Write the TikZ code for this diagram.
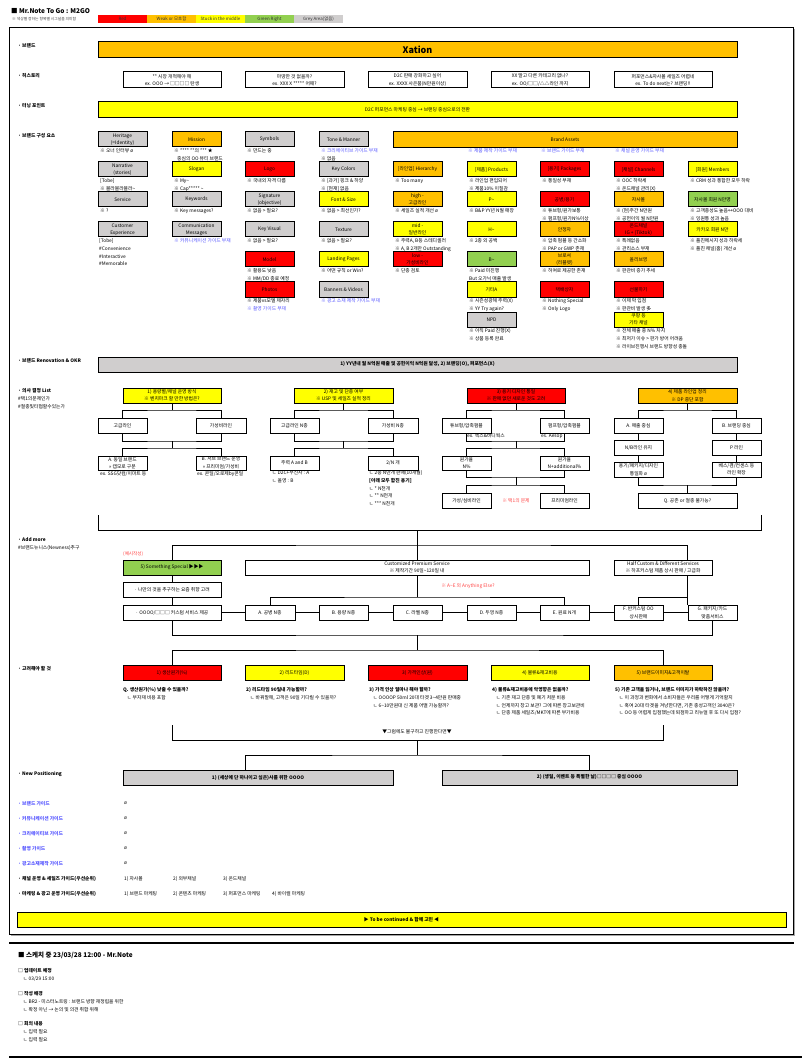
\documentclass[tikz,border=0pt]{standalone}
\usepackage{fontspec}
\setmainfont{Noto Sans CJK KR}
\usetikzlibrary{calc}
\definecolor{cred}{RGB}{255,0,0}
\definecolor{corange}{RGB}{255,192,0}
\definecolor{cyellow}{RGB}{255,255,0}
\definecolor{cgreen}{RGB}{146,208,80}
\definecolor{cgrey}{RGB}{208,206,206}
\definecolor{bluetxt}{RGB}{85,85,255}
\definecolor{redtxt}{RGB}{255,70,70}
\newcommand\myfbx{\fontsize{4.8}{7.4}\selectfont}
\newcommand\myfnt{\fontsize{4.8}{7.7}\selectfont}
\newcommand\mytld{\textasciitilde}
\newcounter{tn}
\newcommand\myBx[7]{\node[bx,fill=#6,minimum width={(#4-#2)*1pt},minimum height={(#5-#3)*1pt}] (#1) at ({(#2+#4)/2},{(#3+#5)/2}) {#7};}
\newcommand\myCb[5]{\myBx{#1}{#2}{#3}{#2+49}{#3+15}{#4}{#5}}
\newcommand\myNt[4][black]{\stepcounter{tn}\node[tx,text=#1] (n\arabic{tn}) at (#2,{#3-2.4}) {#4};}
\newcommand\myLg[6]{\node[lg,fill=#5,minimum width={(#3-#2)*1pt},minimum height=8pt] (#1) at ({(#2+#3)/2},#4) {#6};}
\begin{document}
\begin{tikzpicture}[x=1pt,y=-1pt,
  bx/.style={draw=black,line width=1pt,inner sep=0pt,align=center,font=\myfbx},
  lg/.style={inner sep=0pt,align=center,font=\fontsize{4.4}{5}\selectfont,text=black!80},
  ln/.style={line width=1pt},
  tx/.style={inner sep=0pt,anchor=north west,align=left,font=\myfnt}]
\useasboundingbox (0,0) rectangle (802,1064);
\fill[white] (0,0) rectangle (802,1064);

% title and legend
\node[anchor=west,inner sep=0pt,font=\fontsize{6.5}{7}\selectfont\bfseries] (title) at (11,11) {■ Mr.Note To Go : M2GO};
\node[anchor=west,inner sep=0pt,font=\fontsize{3.8}{4.5}\selectfont,text=black!75] (subt) at (12,19) {※ 색상별 정하는 항목별 시그널을 의미함};
\myLg{lg1}{98}{147}{19}{cred}{Red}
\myLg{lg2}{147}{196}{19}{corange}{Weak or 모호함}
\myLg{lg3}{196}{245}{19}{cyellow}{Stuck in the middle}
\myLg{lg4}{245}{294}{19}{cgreen}{Green Right}
\myLg{lg5}{294}{343}{19}{cgrey}{Grey Area(없음)}

% frame
\draw[line width=1pt] (9,28) rectangle (793,934);
\draw[line width=0.6pt,black!35] (10.5,935.5) -- (794.5,935.5) -- (794.5,29.5);
\draw[line width=2pt] (9,943) -- (794,943);
\draw[line width=2pt] (9,1057) -- (802,1057);

% section labels
\myNt{18}{46}{\textbf{· 브랜드}}
\myNt{18}{76}{\textbf{· 히스토리}}
\myNt{18}{106}{\textbf{· 터닝 포인트}}
\myNt{18}{136}{\textbf{· 브랜드 구성 요소}}
\myNt{18}{361}{\textbf{· 브랜드 Renovation \& OKR}}
\myNt{18}{391}{\textbf{· 의사 결정 List}\\\#택1의문제인가\\\#절충및타협할수있는가}
\myNt{18}{540}{\textbf{· Add more}\\\#브랜드뉴니스(Newness)추구}
\myNt{18}{669}{\textbf{· 고려해야 할 것}}
\myNt{18}{774}{\textbf{· New Positioning}}

% brand / history / turning point
\myBx{brand}{98}{42}{737}{58}{corange}{\fontsize{9}{10}\selectfont\bfseries Xation}
\myBx{h1}{123}{72}{221}{88}{white}{** 시장 개척해야 해\\ex. OOO → □□□□ 탄생}
\myBx{h2}{245}{72}{344}{88}{white}{마땅한 것 없을까?\\ex. XXX X ***** 어때?}
\myBx{h3}{368}{72}{467}{88}{white}{D2C 판매 강화하고 싶어\\ex. XXXX 사은품(N만원이상)}
\myBx{h4}{491}{72}{589}{88}{white}{XX 말고 다른 카테고리 없나?\\ex. OO/□□/△△라인 까지}
\myBx{h5}{614}{72}{712}{88}{white}{퍼포먼스\&자사몰 세일즈 어렵네\\ex. To do next는? 브랜딩!!}
\myBx{turn}{98}{102}{737}{118}{cyellow}{D2C 퍼포먼스 마케팅 중심 → 브랜딩 중심으로의 전환}

% brand components row 1
\myCb{k11}{98}{132}{cgrey}{Heritage\\(=Identity)}
\myCb{k12}{172}{132}{corange}{Mission}
\myCb{k13}{245}{132}{cgrey}{Symbols}
\myCb{k14}{319}{132}{cgrey}{Tone \& Manner}
\myBx{ba}{393}{132}{737}{148}{corange}{Brand Assets}
\myNt{100}{151}{※ 오너 인터뷰 ø}
\myNt{174}{151}{※ **** **의 *** ★\\\hspace*{3pt}중심의 OO 뷰티 브랜드}
\myNt{247}{151}{※ 만드는 중}
\myNt[bluetxt]{321}{151}{※ 크리에이티브 가이드 부재}
\myNt{321}{159}{※ 없음}
\myNt[bluetxt]{468}{151}{※ 제품 제작 가이드 부재}
\myNt[bluetxt]{541}{151}{※ 브랜드 가이드 부재}
\myNt[bluetxt]{615}{151}{※ 채널 운영 가이드 부재}

% row 2
\myCb{k21}{98}{162}{cgrey}{Narrative\\(stories)}
\myCb{k22}{172}{162}{cyellow}{Slogan}
\myCb{k23}{245}{162}{cred}{Logo}
\myCb{k24}{319}{162}{cgrey}{Key Colors}
\myCb{k25}{393}{162}{corange}{[라인업] Hierarchy}
\myCb{k26}{467}{162}{cyellow}{[제품] Products}
\myCb{k27}{540}{162}{cred}{[용기] Packages}
\myCb{k28}{614}{162}{cred}{[채널] Channels}
\myCb{k29}{688}{162}{cyellow}{[회원] Members}
\myNt{100}{181}{[Tobe]\\※ 블라블라블라\mytld}
\myNt{174}{181}{※ My\mytld\\※ Cap***** \mytld}
\myNt{247}{181}{※ 국내외 자격 다름}
\myNt{321}{181}{※ [과거] 핑크 \& 하양\\※ [현재] 없음}
\myNt{395}{181}{※ Too many}
\myNt{469}{181}{※ 라인업 편입되어\\※ 제품10\% 이질감}
\myNt{542}{181}{※ 통일성 부재}
\myNt{616}{181}{※ OOC 하락세\\※ 온드채널 관리(X)}
\myNt{690}{181}{※ CRM 성과 통합한 모두 하락}

% row 3
\myCb{k31}{98}{192}{cgrey}{Service}
\myCb{k32}{172}{192}{cgrey}{Keywords}
\myCb{k33}{245}{192}{cgrey}{Signature\\(objective)}
\myCb{k34}{319}{192}{cyellow}{Font \& Size}
\myCb{k35}{393}{192}{corange}{high -\\고급라인}
\myCb{k36}{467}{192}{cyellow}{P\mytld}
\myCb{k37}{540}{192}{cred}{공병/용기}
\myCb{k38}{614}{192}{corange}{자사몰}
\myCb{k39}{688}{192}{cgreen}{자사몰 회원 N만명}
\myNt{100}{211}{※ ?}
\myNt{174}{211}{※ Key messages?}
\myNt{247}{211}{※ 없음 > 필요?}
\myNt{321}{211}{※ 없음 > 최선인가?}
\myNt{395}{211}{※ 세일즈 실적 개선 ø}
\myNt{469}{211}{※ B\&P YY년 N월 매장}
\myNt{542}{211}{※ 튜브형/원가보통\\※ 펌프형/원가N\%이상}
\myNt{616}{211}{※ (현)주간 N만원\\※ 공헌이익 월 N만원}
\myNt{690}{211}{※ 고객충성도 높음↔OOO 대비\\※ 잉원통 성과 높음}

% row 4
\myCb{k41}{98}{222}{cgrey}{Customer\\Experience}
\myCb{k42}{172}{222}{cgrey}{Communication\\Messages}
\myCb{k43}{245}{222}{cgrey}{Key Visual}
\myCb{k44}{319}{222}{cgrey}{Texture}
\myCb{k45}{393}{222}{cyellow}{mid -\\일반라인}
\myCb{k46}{467}{222}{cyellow}{H\mytld}
\myCb{k47}{540}{222}{corange}{안정자}
\myCb{k48}{614}{222}{cred}{온드채널\\IG + (Tiktok)}
\myCb{k49}{688}{222}{cyellow}{카카오 회원 N만}
\myNt{99}{241}{[Tobe]\\\#Convenience\\\#Interactive\\\#Memorable}
\myNt[bluetxt]{174}{241}{※ 커뮤니케이션 가이드 부재}
\myNt{247}{241}{※ 없음 > 필요?}
\myNt{321}{241}{※ 없음 > 필요?}
\myNt{395}{241}{※ 주력A, B등 스테디셀러\\※ A, B 2개만 Outstanding}
\myNt{469}{241}{※ 2종 외 공백}
\myNt{542}{241}{※ 압축 펌플 등 간소화\\※ PAP or GWP 존재}
\myNt{616}{241}{※ 특례없음\\※ 관리소스 부재}
\myNt{690}{241}{※ 플친메시지 성과 하락세\\※ 플친 채널(홈) 개선 ø}

% row 5
\myCb{k53}{245}{252}{cred}{Model}
\myCb{k54}{319}{252}{cyellow}{Landing Pages}
\myCb{k55}{393}{252}{cred}{low -\\가성비라인}
\myCb{k56}{467}{252}{cgreen}{B\mytld}
\myCb{k57}{540}{252}{corange}{브로셔\\(리플렛)}
\myCb{k58}{614}{252}{corange}{올리브영}
\myNt{247}{271}{※ 활용도 낮음\\※ MM/DD 종료 예정}
\myNt{321}{271}{※ 어떤 규칙 or Win?}
\myNt{395}{271}{※ 단종 검토}
\myNt{469}{271}{※ Paid 미진행\\But 오가닉 매출 발생}
\myNt{542}{271}{※ 허여로 제공한 존재}
\myNt{616}{271}{※ 판관비 증가 추세}

% row 6
\myCb{k63}{245}{282}{cred}{Photos}
\myCb{k64}{319}{282}{cgrey}{Banners \& Videos}
\myCb{k66}{467}{282}{cyellow}{기타A}
\myCb{k67}{540}{282}{cred}{택배상자}
\myCb{k68}{614}{282}{cred}{선물하기}
\myNt{247}{301}{※ 제품vs모델 제자리}
\myNt[bluetxt]{247}{309}{※ 촬영 가이드 부재}
\myNt[bluetxt]{321}{301}{※ 광고 소재 제작 가이드 부재}
\myNt{469}{301}{※ 시즌성광해 주력(X)\\※ YY Try again?}
\myNt{542}{301}{※ Nothing Special\\※ Only Logo}
\myNt{616}{301}{※ 이제 막 입점\\※ 판관비 발생 多}

% row 7
\myCb{k76}{467}{312}{cgrey}{NPD}
\myCb{k78}{614}{312}{cyellow}{쿠팡 등\\기타 채널}
\myNt{469}{331}{※ 아직 Paid 진행(X)\\※ 상품 등록 완료}
\myNt{616}{331}{※ 전체 매출 중 N\% 차지\\※ 최저가 이슈 > 판가 방어 어려움\\※ 라이브진행시 브랜드 방향성 충돌}

% OKR
\myBx{okr}{98}{357}{737}{372}{cgrey}{\bfseries 1) YY년내 월 N억원 매출 및 공헌이익 N억원 달성, 2) 브랜딩(O), 퍼포먼스(X)}

% decision headers
\myBx{d1}{123}{388}{221}{403}{cyellow}{1) 용량별/채널 운영 방식\\※ 벤치마크 할 만한 방법은?}
\myBx{d2}{294}{388}{393}{403}{cyellow}{2) 재고 및 단종 여부\\※ USP 및 세일즈 실적 정리}
\myBx{d3}{467}{388}{565}{403}{cred}{3) 용기 디자인 통일\\※ 판매 없던 새로운 것도 고려}
\myBx{d4}{638}{388}{737}{403}{corange}{4) 제품 라인업 정리\\※ DP 중단 포함}

% tree 1
\myBx{t1a}{98}{418}{147}{433}{white}{고급라인}
\myBx{t1b}{196}{418}{246}{433}{white}{가성비라인}
\myBx{t1c}{98}{456}{147}{470}{white}{A. 동일 브랜드\\>> 캡모로 구분}
\myBx{t1d}{196}{456}{246}{470}{white}{B. 서브 브랜드 운영\\>> 프리미엄/가성비}
\myNt{100}{474}{ex. SSG닷컴/이마트 등}
\myNt{197}{474}{ex. 콘딜/오로제by콘딜}
\coordinate (t1f) at (172,410);
\coordinate (t1m) at (172,441);
\coordinate (t1g) at (172,448);
\draw[ln] (d1.south) -- (t1f);
\draw[ln] (t1a.north) |- (t1f) -| (t1b.north);
\draw[ln] (t1a.south) |- (t1m) -| (t1b.south);
\draw[ln] (t1m) -- (t1g);
\draw[ln] (t1c.north) |- (t1g) -| (t1d.north);

% tree 2
\myBx{t2a}{270}{418}{319}{433}{white}{고급라인 N종}
\myBx{t2b}{368}{418}{418}{433}{white}{가성비 N종}
\myBx{t2c}{270}{456}{319}{470}{white}{주력 A and B}
\myBx{t2d}{368}{456}{418}{470}{white}{2/N 개}
\myNt{272}{473}{ㄴ D2C+무신사 : A\\ㄴ 올영 : B}
\myNt{369}{473}{ㄴ 2종 N만개 판매(10개월)\\{\bfseries [아래 모두 합친 용기]}\\ㄴ * N천개\\ㄴ ** N천개\\ㄴ *** N천개}
\coordinate (t2f) at (343.5,410);
\coordinate (t2m) at (343.5,441);
\coordinate (t2g) at (343.5,448);
\draw[ln] (d2.south) -- (t2f);
\draw[ln] (t2a.north) |- (t2f) -| (t2b.north);
\draw[ln] (t2a.south) |- (t2m) -| (t2b.south);
\draw[ln] (t2m) -- (t2g);
\draw[ln] (t2c.north) |- (t2g) -| (t2d.north);

% tree 3
\myBx{t3a}{442}{418}{491}{433}{white}{튜브형/압축펌플}
\myBx{t3b}{540}{418}{589}{433}{white}{펌프형/압축펌플}
\myBx{t3c}{442}{456}{491}{470}{white}{원가율\\N\%}
\myBx{t3d}{540}{456}{589}{470}{white}{원가율\\N+additional\%}
\myBx{t3e}{442}{493}{491}{508}{white}{가성/심비라인}
\myBx{t3f}{540}{493}{589}{508}{white}{프리미엄라인}
\myNt{467}{436}{ex. 헥스\&바디웍스}
\myNt{541}{436}{es. Aesop}
\node[inner sep=0pt,font=\myfnt,text=redtxt] (t3x) at (516,500.5) {※ 택1의 문제};
\coordinate (t3f1) at (516,410);
\coordinate (t3m1) at (516,441);
\coordinate (t3g1) at (516,448);
\coordinate (t3m2) at (516,477);
\coordinate (t3g2) at (516,485);
\draw[ln] (d3.south) -- (t3f1);
\draw[ln] (t3a.north) |- (t3f1) -| (t3b.north);
\draw[ln] (t3a.south) |- (t3m1) -| (t3b.south);
\draw[ln] (t3m1) -- (t3g1);
\draw[ln] (t3c.north) |- (t3g1) -| (t3d.north);
\draw[ln] (t3c.south) |- (t3m2) -| (t3d.south);
\draw[ln] (t3m2) -- (t3g2);
\draw[ln] (t3e.north) |- (t3g2) -| (t3f.north);

% tree 4
\myBx{t4a}{614}{418}{663}{433}{white}{A. 매출 중심}
\myBx{t4b}{712}{418}{761}{433}{white}{B. 브랜딩 중심}
\myBx{t4c}{614}{440}{663}{455}{white}{N/B라인 유지}
\myBx{t4d}{712}{440}{761}{455}{white}{P 라인}
\myBx{t4e}{614}{462}{663}{477}{white}{용기/패키지/디자인\\통일화 ø}
\myBx{t4f}{712}{462}{761}{477}{white}{베스/겸/컨센스 등\\라인 확장}
\myBx{t4g}{638}{493}{737}{508}{white}{Q. 공존 or 절충 불가능?}
\coordinate (t4f1) at (687.5,410);
\coordinate (t4m) at (687.5,485);
\draw[ln] (d4.south) -- (t4f1);
\draw[ln] (t4a.north) |- (t4f1) -| (t4b.north);
\draw[ln] (t4a.south) -- (t4c.north);
\draw[ln] (t4b.south) -- (t4d.north);
\draw[ln] (t4c.south) -- (t4e.north);
\draw[ln] (t4d.south) -- (t4f.north);
\draw[ln] (t4e.south) |- (t4m) -| (t4f.south);
\draw[ln] (t4m) -- (t4g.north);

% big bracket
\coordinate (bk1) at (98,515);
\coordinate (bk2) at (98,530);
\coordinate (bk3) at (761,530);
\coordinate (bk4) at (761,515);
\coordinate (bkm) at (417,530);
\coordinate (am) at (417,545);
\draw[ln] (bk1) -- (bk2) -- (bk3) -- (bk4);

% add more
\node[inner sep=0pt,anchor=west,font=\fontsize{4.6}{5}\selectfont,text=redtxt] (ex) at (123,554) {(예시작성)};
\myBx{s5}{123}{560}{221}{575}{cgreen}{5) Something Special ▶▶▶}
\myBx{cps}{245}{560}{589}{575}{white}{Customized Premium Service\\※ 제작기간 90일\mytld120일 내}
\myBx{hcs}{614}{560}{712}{575}{white}{Half Custom \& Different Services\\※ 하프커스텀 제품 상시 판매 / 고급화}
\myBx{s5a}{123}{582}{221}{597}{white}{· 나만의 것을 추구하는 요즘 취향 고려}
\myBx{s5b}{123}{605}{221}{620}{white}{· OOOO/□□□ 커스텀 서비스 제공}
\myBx{ca}{245}{605}{295}{620}{white}{A. 공병 N종}
\myBx{cb}{319}{605}{368}{620}{white}{B. 용량 N종}
\myBx{cc}{393}{605}{442}{620}{white}{C. 라벨 N종}
\myBx{cd}{467}{605}{516}{620}{white}{D. 두껑 N종}
\myBx{ce}{540}{605}{589}{620}{white}{E. 원료 N개}
\myBx{cf}{614}{605}{663}{620}{white}{F. 반커스텀 OO\\상시판매}
\myBx{cg}{688}{605}{737}{620}{white}{G. 패키지/카드\\맞춤서비스}
\node[inner sep=0pt,font=\myfnt,text=redtxt] (anyx) at (468,586) {※ A\mytld E 외 Anything Else?};
\draw[ln] (bkm) -- (cps.north);
\draw[ln] (s5.north) |- (am) -| ([xshift=24.5pt]hcs.north);
\draw[ln] (s5.south) -- (s5a.north);
\draw[ln] (s5a.south) -- (s5b.north);
\draw[ln] (s5b.east) -- (ca.west);
\draw[ln] (ca.east) -- (cb.west);
\draw[ln] (cb.east) -- (cc.west);
\draw[ln] (cc.east) -- (cd.west);
\draw[ln] (cd.east) -- (ce.west);
\draw[ln] (ce.east) -- (cf.west);
\draw[ln] (cf.east) -- (cg.west);
\coordinate (cpm) at (417,597);
\draw[ln] (cps.south) -- (cpm);
\draw[ln] (ca.north) |- (cpm) -| (ce.north);
\coordinate (hcm) at (687.5,597);
\draw[ln] ([xshift=24.5pt]hcs.south) -- (hcm) -- (hcm |- cg.north);
\draw[ln] (cf.north) |- (hcm);
\coordinate (bb) at (417,635);
\coordinate (bq) at (417,650);
\draw[ln] (s5b.south) |- (bb) -| (cg.south);
\draw[ln] (bb) -- (bq);

% considerations
\myBx{q1}{123}{665}{221}{680}{cred}{1) 생산원가(\%)}
\myBx{q2}{245}{665}{344}{680}{cyellow}{2) 리드타임(D)}
\myBx{q3}{368}{665}{467}{680}{cred}{3) 가격인상(원)}
\myBx{q4}{491}{665}{589}{680}{cyellow}{4) 물류\&재고비용}
\myBx{q5}{614}{665}{712}{680}{corange}{5) 브랜드이미지\&고객이탈}
\draw[ln] (q1.north) |- (bq) -| (q5.north);
\myNt{123}{690}{\textbf{Q. 생산원가(\%) 낮출 수 있을까?}\\\hspace*{4pt}ㄴ 부자재 비용 포함}
\myNt{246}{690}{\textbf{2) 리드타임 90일내 가능할까?}\\\hspace*{4pt}ㄴ 바꿔말해, 고객은 90일 기다릴 수 있을까?}
\myNt{369}{690}{\textbf{3) 가격 인상 얼마나 해야 할까?}\\\hspace*{4pt}ㄴ OOOOP 50ml 20대 타겟 3\mytld4만원 판매중\\\hspace*{4pt}ㄴ 6\mytld10만원대 신 제품 어떨 가능할까?}
\myNt{492}{690}{\textbf{4) 물류\&재고비용에 악영향은 없을까?}\\\hspace*{4pt}ㄴ 기존 재고 단종 및 폐기 처분 비용\\\hspace*{4pt}ㄴ 언제까지 창고 보관? 그에 따른 창고보관비\\\hspace*{4pt}ㄴ 단종 제품 세일즈/MKT에 따른 부가비용}
\myNt{615}{690}{\textbf{5) 기존 고객을 잃거나, 브랜드 이미지가 하락하진 않을까?}\\\hspace*{4pt}ㄴ 이 과정과 변화에서 소비자들은 우리를 어떻게 기억할지\\\hspace*{4pt}ㄴ 혹여 20대 타겟을 겨냥한다면, 기존 충성고객인 3040은?\\\hspace*{4pt}ㄴ OO 등 어렵게 입점했는데 퇴점하고 리뉴얼 후 또 다시 입점?}

% nevertheless bracket
\coordinate (g1) at (172,725);
\coordinate (g2) at (172,740);
\coordinate (g3) at (663,740);
\coordinate (g4) at (663,725);
\coordinate (gm) at (417,740);
\coordinate (np) at (417,755);
\draw[ln] (g1) -- (g2) -- (g3) -- (g4);
\node[inner sep=0pt,font=\myfnt] (gtx) at (417,732) {▼그럼에도 불구하고 진행한다면▼};
\draw[ln] (gm) -- (np);

% new positioning
\myBx{p1}{123}{770}{393}{785}{cgrey}{\bfseries 1) (세상에 단 하나이고 싶은)사를 위한 OOOO}
\myBx{p2}{442}{770}{737}{785}{cgrey}{\bfseries 2) (생일, 이벤트 등 특별한 날)□□□□ 중심 OOOO}
\draw[ln] ([xshift=-13pt]p1.north) |- (np) -| (p2.north);

% guides
\myNt[bluetxt]{18}{804}{\textbf{· 브랜드 가이드}}
\myNt[bluetxt]{18}{819}{\textbf{· 커뮤니케이션 가이드}}
\myNt[bluetxt]{18}{834}{\textbf{· 크리에이티브 가이드}}
\myNt[bluetxt]{18}{849}{\textbf{· 촬영 가이드}}
\myNt[bluetxt]{18}{864}{\textbf{· 광고소재제작 가이드}}
\myNt{124}{804}{ø}
\myNt{124}{819}{ø}
\myNt{124}{834}{ø}
\myNt{124}{849}{ø}
\myNt{124}{864}{ø}
\myNt{18}{879}{\textbf{· 채널 운영 \& 세일즈 가이드(우선순위)}}
\myNt{124}{879}{1) 자사몰}
\myNt{173}{879}{2) 외부채널}
\myNt{223}{879}{3) 온드채널}
\myNt{18}{894}{\textbf{· 마케팅 \& 광고 운영 가이드(우선순위)}}
\myNt{124}{894}{1) 브랜드 마케팅}
\myNt{173}{894}{2) 콘텐츠 마케팅}
\myNt{223}{894}{3) 퍼포먼스 마케팅}
\myNt{272}{894}{4) 바이럴 마케팅}

\myBx{tbc}{17}{912}{786}{927}{cyellow}{\bfseries ▶ To be continued \& 함께 고민 ◀}

% bottom notes
\node[anchor=west,inner sep=0pt,font=\fontsize{6.5}{7}\selectfont\bfseries] (sk) at (18,955) {■ 스케치 중 23/03/28 12:00 - Mr.Note};
\myNt{18}{971}{\textbf{□ 업데이트 예정}\\\hspace*{5pt}ㄴ 03/29 15:00}
\myNt{18}{994}{\textbf{□ 작성 배경}\\\hspace*{5pt}ㄴ BR2 - 미스터노트링 : 브랜드 방향 재정립을 위한\\\hspace*{5pt}ㄴ 확정 아닌 → 논의 및 의견 취합 위해}
\myNt{18}{1024}{\textbf{□ 회의 내용}\\\hspace*{5pt}ㄴ 입력 필요\\\hspace*{5pt}ㄴ 입력 필요}
\end{tikzpicture}
\end{document}
